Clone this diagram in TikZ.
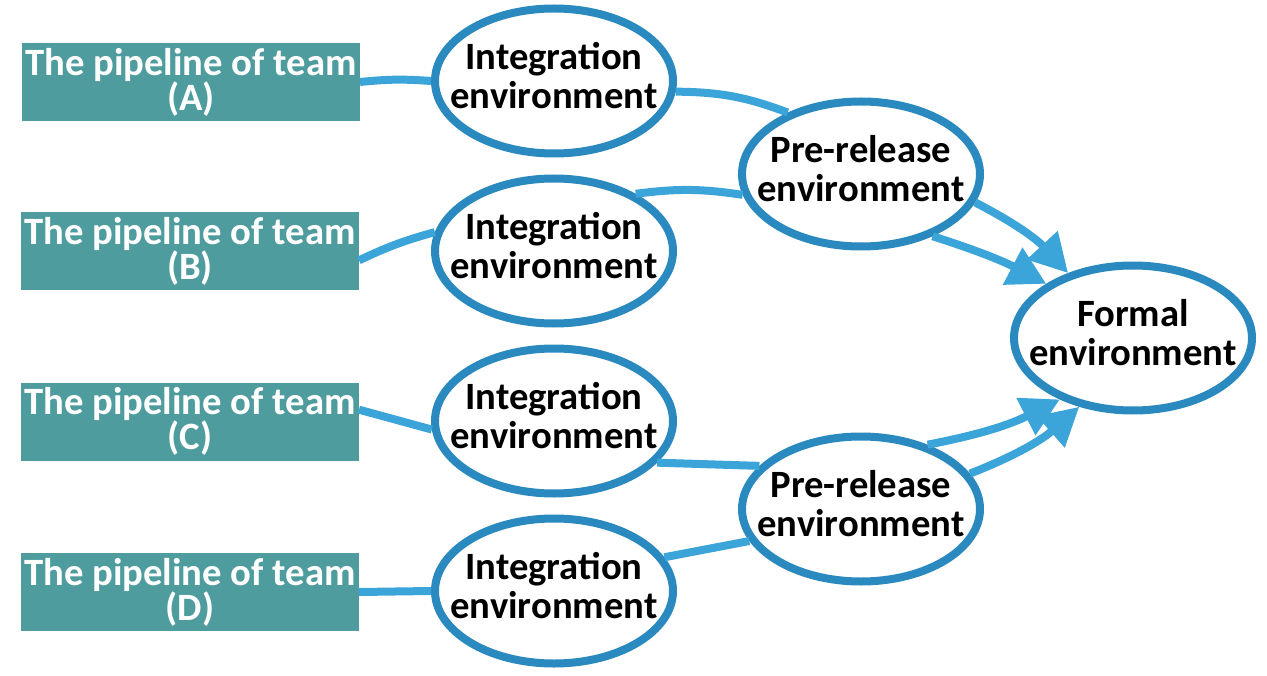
\documentclass[tikz,border=0pt]{standalone}
\usepackage{fontspec}
\setmainfont{Carlito}
\usetikzlibrary{arrows.meta, shapes.geometric}
\definecolor{teamteal}{RGB}{79,156,158}
\definecolor{linkblue}{RGB}{59,165,217}
\definecolor{ringblue}{RGB}{42,137,190}
\newcommand{\envname}[1]{\makebox[0pt]{\begin{tabular}{@{}c@{}}#1\\environment\end{tabular}}}

\begin{document}
\begin{tikzpicture}[line width=0.16cm, linkblue,
team/.style={rectangle, fill=teamteal, text=white, minimum width=6.76cm,
minimum height=1.56cm, inner sep=0pt, outer sep=0pt, align=center,
font=\bfseries\fontsize{22}{20}\selectfont},
env/.style={ellipse, draw=ringblue, fill=white, text=black,
minimum width=4.76cm, minimum height=2.9cm, inner sep=0pt,
font=\bfseries\fontsize{22}{21.5}\selectfont}]
  \useasboundingbox (0,0) rectangle (25.34,13.5);
  % teams
  \node[team] (pA) at (3.82,11.86) {The pipeline of team\\(A)};
  \node[team] (pB) at (3.8,8.47)   {The pipeline of team\\(B)};
  \node[team] (pC) at (3.8,5.07)   {The pipeline of team\\(C)};
  \node[team] (pD) at (3.8,1.66)   {The pipeline of team\\(D)};
  % integration
  \node[env] (iA) at (11.08,11.88) {\envname{Integration}};
  \node[env] (iB) at (11.08,8.48)  {\envname{Integration}};
  \node[env] (iC) at (11.08,5.08)  {\envname{Integration}};
  \node[env] (iD) at (11.08,1.68)  {\envname{Integration}};
  % pre-release
  \node[env] (rA) at (17.22,10.02) {\envname{Pre-release}};
  \node[env] (rB) at (17.22,3.32)  {\envname{Pre-release}};
  % formal
  \node[env] (fm) at (22.66,6.74)  {\envname{Formal}};

\foreach \from/\to/\bend in {pA.east/iA.west/5, pB.357/iB.171/5, pC.4/iC.184/0,
    pD.east/iD.west/0, iA.355/rA.140/10, iB.35/rA.190/8, iC.338/rB.157/0,
    iD.17/rB.196/0}
    \draw (\from) to[bend left=\bend] (\to);
\foreach \from/\to/\bend in {rA.346/fm.135/10, rA.319/fm.148/5,
    rB.44/fm.220/-8, rB.18/fm.232/-10}
    \draw[-{Triangle[length=0.76cm, width=0.8cm]}] (\from) to[bend left=\bend] (\to);
\end{tikzpicture}
\end{document}
